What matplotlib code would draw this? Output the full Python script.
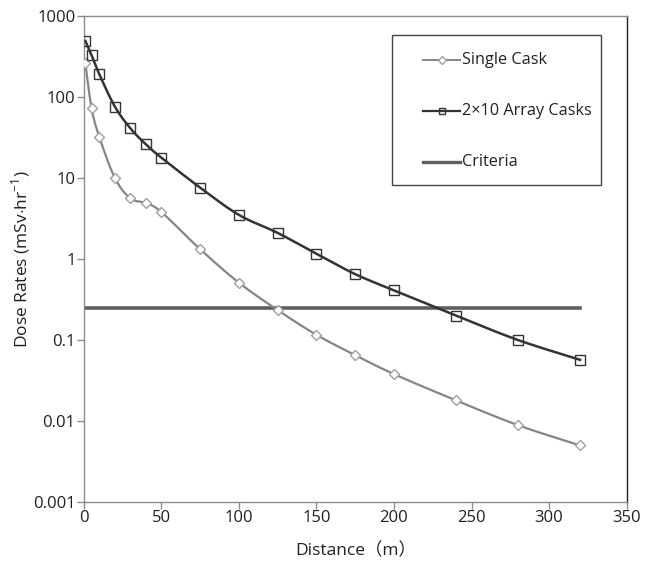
import numpy as np
import matplotlib
matplotlib.use('Agg')
import matplotlib.pyplot as plt
from matplotlib.lines import Line2D
from matplotlib.patches import Rectangle

# Data
distance = [1, 5, 10, 20, 30, 40, 50, 75, 100, 125, 150, 175, 200, 240, 280, 320]
single_cask = [260, 72, 32, 10, 5.6, 4.9, 3.8, 1.32, 0.51, 0.234, 0.116, 0.065, 0.038, 0.018, 0.0089, 0.005]
array_casks = [490, 327, 190, 76, 41, 26, 17.8, 7.6, 3.5, 2.1, 1.16, 0.65, 0.41, 0.2, 0.10, 0.057]
criteria_x = [0, 320]
criteria_y = [0.25, 0.25]

y_ticks = [0.001, 0.01, 0.1, 1, 10, 100, 1000]
y_labels = ['0.001', '0.01', '0.1', '1', '10', '100', '1000']
x_ticks = [0, 50, 100, 150, 200, 250, 300, 350]
labels = ['Single Cask', '2\u00d710 Array Casks', 'Criteria']

plt.rcParams['font.family'] = ['Open Sans', 'Noto Sans CJK SC', 'DejaVu Sans']
plt.rcParams['mathtext.fontset'] = 'custom'
plt.rcParams['mathtext.rm'] = 'Open Sans'
TEXT = '#231f20'
W, H = 650, 568


def smooth(x, y, xscale=1.55, yscale=81.0, n=20):
    """Bezier smoothing through the points in screen-like log space (Excel style)."""
    px = np.asarray(x, float) * xscale
    py = np.log10(np.asarray(y, float)) * yscale
    pts = np.column_stack([px, py])
    pts = np.vstack([pts[0], pts, pts[-1]])
    out = []
    for i in range(1, len(pts) - 2):
        p0, p1, p2, p3 = pts[i - 1], pts[i], pts[i + 1], pts[i + 2]
        c1 = p1 + (p2 - p0) / 6.0
        c2 = p2 - (p3 - p1) / 6.0
        t = np.linspace(0, 1, n)[:, None]
        seg = ((1 - t) ** 3) * p1 + 3 * ((1 - t) ** 2) * t * c1 + 3 * (1 - t) * t ** 2 * c2 + t ** 3 * p2
        out.append(seg if i == 1 else seg[1:])
    out = np.vstack(out)
    return out[:, 0] / xscale, 10 ** (out[:, 1] / yscale)


fig = plt.figure(figsize=(6.5, 5.68), dpi=100)
ax = fig.add_axes([0.129, 0.116, 0.835, 0.856])

c_single, c_single_m = '#858585', '#a0a0a0'
c_array = '#333333'
c_crit = '#5f5f5f'

sx, sy = smooth(distance, single_cask)
ax.plot(sx, sy, color=c_single, lw=1.6, zorder=3)
ax.plot(distance, single_cask, ls='none', marker='D', ms=5.5, mfc='white',
        mec=c_single_m, mew=1.0, zorder=4)

axx, axy = smooth(distance, array_casks)
ax.plot(axx, axy, color=c_array, lw=1.8, zorder=3)
ax.plot(distance, array_casks, ls='none', marker='s', ms=7, mfc='none',
        mec=c_array, mew=1.0, zorder=4)

ax.plot(criteria_x, criteria_y, color=c_crit, lw=2.6, zorder=2)

ax.set_yscale('log')
ax.set_ylim(0.001, 1000)
ax.set_xlim(0, 350)
ax.set_yticks(y_ticks)
ax.set_yticklabels(y_labels)
ax.minorticks_off()
ax.set_xticks(x_ticks)
ax.tick_params(axis='both', colors='#8c8c8c', labelcolor=TEXT, labelsize=12,
               length=5, width=1, direction='out', pad=1)

for side in ['left', 'bottom', 'top']:
    ax.spines[side].set_color('#8c8c8c')
ax.spines['right'].set_color('#222222')
for s in ax.spines.values():
    s.set_linewidth(1)

ax.set_xlabel('Distance\uff08m\uff09', fontsize=12.5, color=TEXT, labelpad=12)
ax.set_ylabel(r'Dose Rates (mSv$\cdot$hr$^{-1}$)', fontsize=12.5, color=TEXT, labelpad=1)

# Legend box drawn in figure pixels, Excel-like layout
fig.add_artist(Rectangle((392 / W, 1 - 185 / H), 209 / W, 150 / H, transform=fig.transFigure,
                         fill=True, facecolor='white', edgecolor='#444444', lw=1, zorder=5))
handles = [
    dict(color=c_single, lw=1.4, marker='D', ms=4, mfc='white', mec=c_single_m),
    dict(color=c_array, lw=1.6, marker='s', ms=5, mfc='none', mec=c_array),
    dict(color=c_crit, lw=2.4),
]
for row, (lab, style) in enumerate(zip(labels, handles)):
    yy = 1 - (60 + row * 51) / H
    fig.add_artist(Line2D([423 / W, 460 / W], [yy, yy], transform=fig.transFigure,
                          zorder=6, **{k: v for k, v in style.items() if k not in ('marker', 'ms', 'mfc', 'mec')}))
    if 'marker' in style:
        fig.add_artist(Line2D([441.5 / W], [yy], transform=fig.transFigure, ls='none', zorder=7,
                              marker=style['marker'], ms=style['ms'], mfc=style['mfc'],
                              mec=style['mec'], mew=1.0))
    fig.text(462 / W, yy, lab, fontsize=11.7, color=TEXT, va='center', ha='left', zorder=7)

fig.savefig('out.png', dpi=100)
